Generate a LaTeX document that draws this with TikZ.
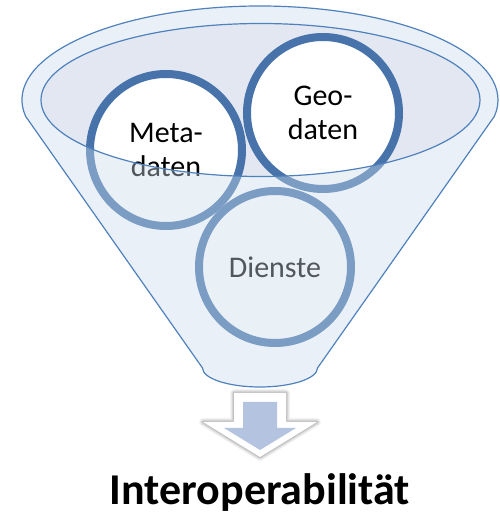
\documentclass[tikz,border=0pt]{standalone}
\usepackage{fontspec}
\setmainfont{Carlito}
\usepackage{xcolor}
\usetikzlibrary{positioning,shadows}

\begin{document}
\begin{tikzpicture}[x=1pt,y=1pt,
  bubble/.style={circle,draw=ringColor,line width=8pt,fill=white,minimum size=152pt,
    inner sep=0pt,align=center,font=\fontsize{30}{34}\selectfont,
    drop shadow={shadow xshift=2pt,shadow yshift=-3pt,opacity=0.12}}]
\definecolor{fillColor}{RGB}{255,255,255}
\path[use as bounding box,fill=fillColor,fill opacity=0.00] (0,0) rectangle (499,515);
\definecolor{lineColor}{RGB}{79,129,189}
\definecolor{innerColor}{RGB}{226,231,241}
\definecolor{ringColor}{RGB}{71,115,170}
\definecolor{frontColor}{RGB}{202,218,234}
\definecolor{arrowColor}{RGB}{179,195,224}

% inside of the funnel opening
\path[fill=innerColor] (260.5,415) ellipse [x radius=219.5, y radius=76.5];

% the three items
\node[bubble] (dienste) at (275,248) {Dienste};
\node[bubble] (geo) at (323,402) {Geo-\\daten};
\node[bubble] (meta) at (166,365) {Meta-\\daten};

% funnel front, see-through
\path[draw=lineColor,line width=1.2pt,fill=frontColor,fill opacity=0.40,even odd rule]
  (25.62,398.68) arc [start angle=190, end angle=-10, x radius=238, y radius=94] --
  (317.5,147) arc [start angle=0, end angle=-180, x radius=57.5, y radius=19] -- cycle
  (260.5,415) ellipse [x radius=219.5, y radius=76.5];

% arrow below the funnel
\foreach \w/\o in {8/0.04,6/0.06,4/0.08,2/0.10}
  \path[draw=black,draw opacity=\o,line width=\w pt,line join=round]
    (234,122) -- (286,122) -- (286,93) -- (317,93) -- (260,58) -- (203,93) -- (234,93) -- cycle;
\path[fill=white] (234,122) -- (286,122) -- (286,93) -- (317,93) -- (260,58) -- (203,93) -- (234,93) -- cycle;
\path[fill=arrowColor] (243,113) -- (277,113) -- (277,87) -- (296,87) -- (260,65) -- (224,87) -- (243,87) -- cycle;

\node[anchor=base,inner sep=0pt,font=\fontsize{44}{52}\selectfont\bfseries] (result) at (260,10) {Interoperabilität};
\end{tikzpicture}
\end{document}
